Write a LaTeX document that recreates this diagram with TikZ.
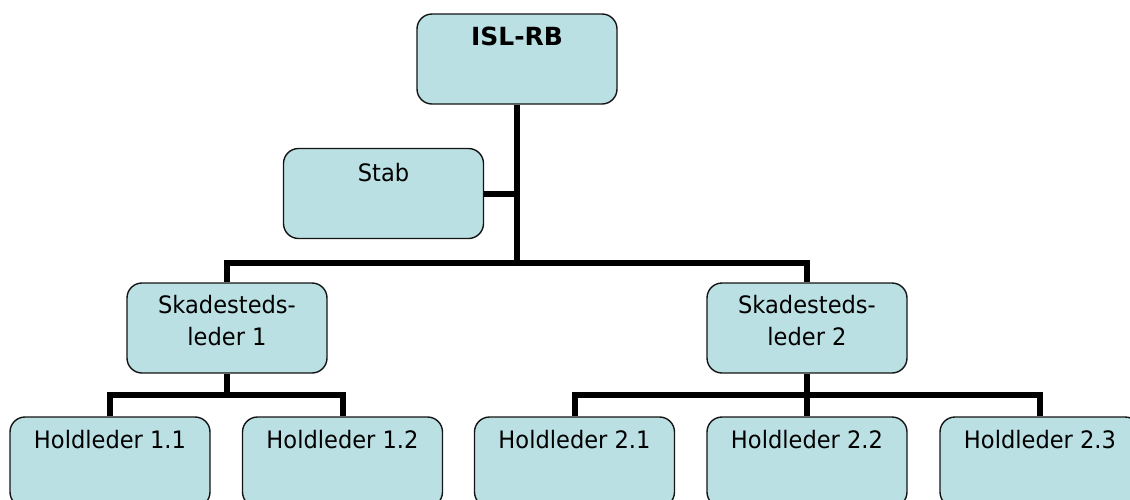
\documentclass[tikz,border=0pt]{standalone}
\usepackage{fontspec}
\setmainfont{DejaVu Sans}[FakeStretch=0.94, BoldFeatures={FakeStretch=1.0}]
\definecolor{boxfill}{RGB}{186,224,227}
\definecolor{boxline}{RGB}{20,20,20}
\begin{document}
\begin{tikzpicture}[x=1pt,y=-1pt,
  unit/.style={draw=boxline, line width=1.4pt, fill=boxfill, rounded corners=15pt,
    minimum width=200pt, minimum height=90pt, inner sep=0pt, anchor=center},
  caption/.style={anchor=north, inner sep=0pt, align=center,
    font=\fontsize{24}{32}\selectfont},
  conn/.style={line width=6pt, black, line join=miter}]
\useasboundingbox (0,0) rectangle (1130,499);
\begin{scope}
\clip (0,0) rectangle (1130,499);
% organisation units
\node[unit, label={[caption, yshift=-13pt, font=\fontsize{25}{30}\selectfont\bfseries]north:ISL-RB}] (isl) at (517,59) {};
\node[unit, label={[caption, yshift=-15pt]north:Stab}] (stab) at (383.5,193.5) {};
\node[unit, label={[caption, yshift=-13pt]north:Skadesteds-\\leder 1}] (s1) at (227,328) {};
\node[unit, label={[caption, yshift=-13pt]north:Skadesteds-\\leder 2}] (s2) at (807,328) {};
\node[unit, label={[caption, yshift=-14pt]north:Holdleder 1.1}] (h11) at (110,462) {};
\node[unit, label={[caption, yshift=-14pt]north:Holdleder 1.2}] (h12) at (342.5,462) {};
\node[unit, label={[caption, yshift=-14pt]north:Holdleder 2.1}] (h21) at (574.5,462) {};
\node[unit, label={[caption, yshift=-14pt]north:Holdleder 2.2}] (h22) at (807,462) {};
\node[unit, label={[caption, yshift=-14pt]north:Holdleder 2.3}] (h23) at (1040,462) {};
% branch points of the tree
\coordinate (top) at (517,263);
\coordinate (b1) at (227,395);
\coordinate (b2) at (807,395);
% connectors
\draw[conn] (isl.south) -- (top);
\draw[conn] (stab.east) -- (stab.east -| top);
\draw[conn] (s1.north) |- (top) -| (s2.north);
\draw[conn] (s1.south) -- (b1);
\draw[conn] (h11.north) |- (b1) -| (h12.north);
\draw[conn] (s2.south) -- (b2) -- (h22.north);
\draw[conn] (h21.north) |- (b2) -| (h23.north);
\end{scope}
\end{tikzpicture}
\end{document}
